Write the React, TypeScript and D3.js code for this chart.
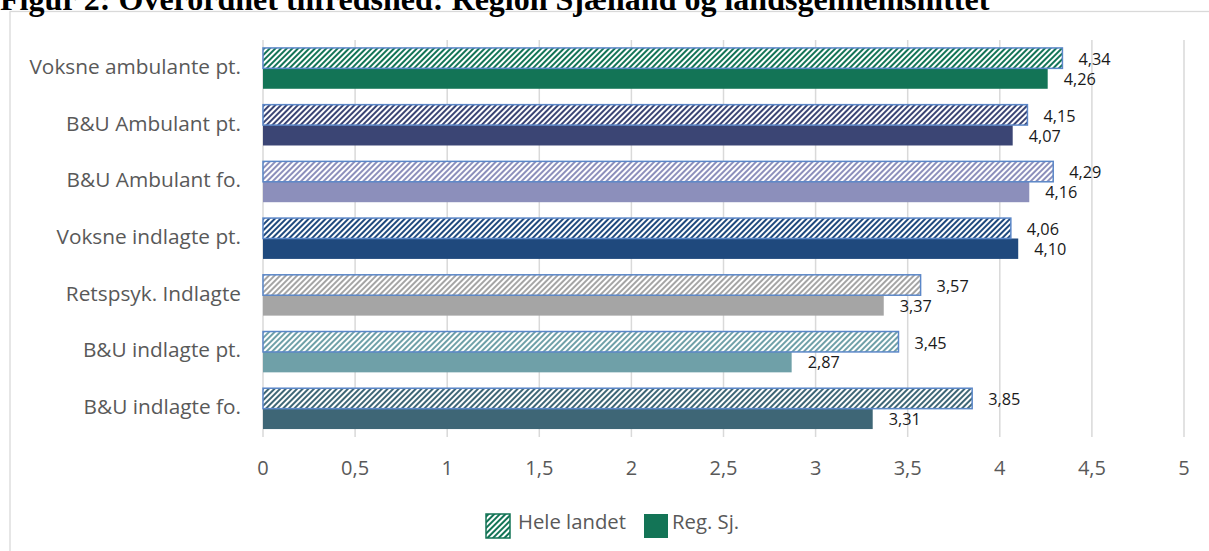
import React from 'react';
import * as d3 from 'd3';

const categories = [
  'Voksne ambulante pt.',
  'B&U Ambulant pt.',
  'B&U Ambulant fo.',
  'Voksne indlagte pt. ',
  'Retspsyk. Indlagte',
  'B&U indlagte pt.',
  'B&U indlagte fo.',
];
const heleLandet = [4.34, 4.15, 4.29, 4.06, 3.57, 3.45, 3.85];
const regSj = [4.26, 4.07, 4.16, 4.1, 3.37, 2.87, 3.31];
const barColors = ['#137456', '#3b4574', '#8c8fbb', '#1f497d', '#a5a5a5', '#6fa0a8', '#3e6676'];
const xTicks = [0, 0.5, 1, 1.5, 2, 2.5, 3, 3.5, 4, 4.5, 5];
const seriesNames = ['Hele landet', 'Reg. Sj.'];

const W = 1209;
const H = 551;
const font = "'Open Sans', sans-serif";
const fmt = (v: number) => v.toFixed(2).replace('.', ',');
const tickFmt = (v: number) => String(v).replace('.', ',');

const App = () => {
  const x = d3.scaleLinear().domain([0, 5]).range([263, 1184]);
  const y = d3.scaleBand().domain(categories).range([40, 437]).paddingInner(0.28).paddingOuter(0.14);
  const sub = d3.scaleBand().domain(seriesNames).range([0, y.bandwidth()]);

  return (
    <svg width={W} height={H} style={{ position: 'absolute', left: 0, top: 0, background: '#fff' }}>
      <defs>
        {barColors.map((c, i) => (
          <pattern key={i} id={`hatch${i}`} patternUnits="userSpaceOnUse" width={4} height={4}
            patternTransform="rotate(45)">
            <rect width={4} height={4} fill="#fff" />
            <rect width={2} height={4} fill={c} />
          </pattern>
        ))}
      </defs>

      <rect x={10} y={11.5} width={W} height={H} fill="#fff" stroke="#d9d9d9" strokeWidth={1.3} />

      <text x={0} y={10} fontFamily="'Liberation Serif', 'Times New Roman', serif" fontWeight="bold"
        fontSize={32} fill="#000">Figur 2: Overordnet tilfredshed: Region Sjælland og landsgennemsnittet</text>

      {xTicks.map(t => (
        <g key={t}>
          <line x1={x(t)} x2={x(t)} y1={40} y2={437} stroke="#d9d9d9" strokeWidth={1.5} />
          <text x={x(t)} y={470} textAnchor="middle" dominantBaseline="middle" fontFamily={font}
            fontSize={20} fill="#595959">{tickFmt(t)}</text>
        </g>
      ))}

      {categories.map((c, i) => {
        const y0 = y(c)!;
        const yh = y0 + sub('Hele landet')!;
        const ys = y0 + sub('Reg. Sj.')!;
        const bh = sub.bandwidth();
        return (
          <g key={c}>
            <text x={241} y={y0 + y.bandwidth() / 2} textAnchor="end" dominantBaseline="middle"
              fontFamily={font} fontSize={20.8} fill="#595959">{c}</text>
            <rect x={x(0)} y={ys} width={x(regSj[i]) - x(0)} height={bh} fill={barColors[i]} />
            <rect x={x(0)} y={yh} width={x(heleLandet[i]) - x(0)} height={bh} fill={`url(#hatch${i})`}
              stroke="#5b87c8" strokeWidth={1.5} />
            <text x={x(heleLandet[i]) + 16} y={yh + bh / 2 + 2.5} dominantBaseline="middle"
              fontFamily={font} fontSize={16.3} fill="#1a1a1a">{fmt(heleLandet[i])}</text>
            <text x={x(regSj[i]) + 16} y={ys + bh / 2 + 2} dominantBaseline="middle"
              fontFamily={font} fontSize={16.3} fill="#1a1a1a">{fmt(regSj[i])}</text>
          </g>
        );
      })}

      <g>
        <rect x={486} y={514} width={24} height={24} fill="url(#hatch0)" stroke={barColors[0]} strokeWidth={1.5} />
        <text x={518} y={524} dominantBaseline="middle" fontFamily={font} fontSize={20.3} fill="#595959">{seriesNames[0]}</text>
        <rect x={644} y={514} width={24} height={24} fill={barColors[0]} />
        <text x={672} y={524} dominantBaseline="middle" fontFamily={font} fontSize={20.3} fill="#595959">{seriesNames[1]}</text>
      </g>
    </svg>
  );
};

export default App;
